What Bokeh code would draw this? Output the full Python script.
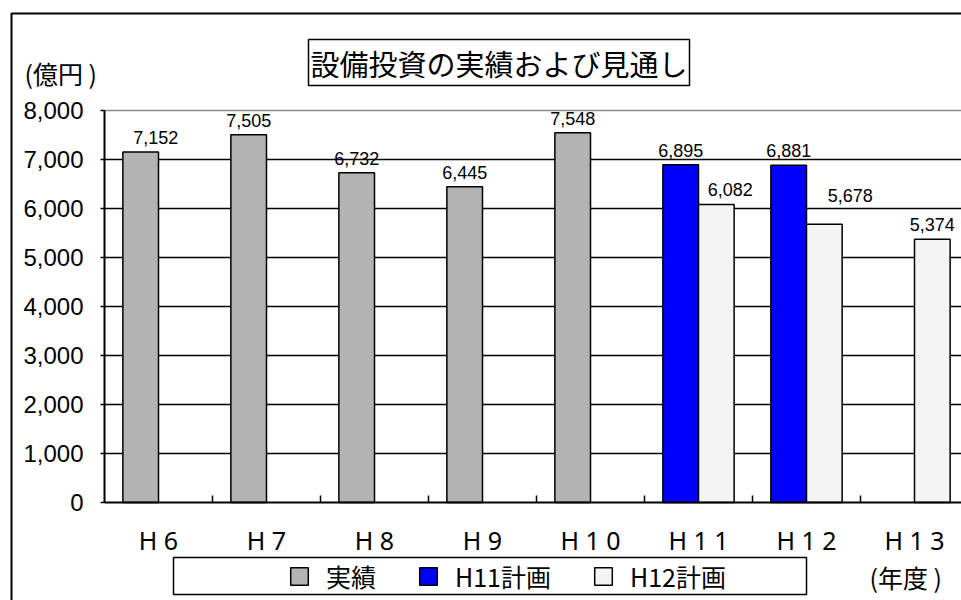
from bokeh.plotting import figure
from bokeh.models import (ColumnDataSource, Range1d, FixedTicker, NumeralTickFormatter,
                          LabelSet, Label, Legend, LegendItem, BoxAnnotation, LinearAxis)
from bokeh.core.properties import value
from bokeh.embed import file_html
from bokeh.resources import INLINE

# ---------------- data ----------------
categories = ["H6", "H7", "H8", "H9", "H10", "H11", "H12", "H13"]
tick_labels = ["H 6", "H 7", "H 8", "H 9", "H 1 0", "H 1 1", "H 1 2", "H 1 3"]
series_names = ["実績", "H11計画", "H12計画"]
actual_cats = ["H6", "H7", "H8", "H9", "H10"]
actual_vals = [7152, 7505, 6732, 6445, 7548]
plan11_cats = ["H11", "H12"]
plan11_vals = [6895, 6881]
plan12_cats = ["H11", "H12", "H13"]
plan12_vals = [6082, 5678, 5374]
y_ticks = [0, 1000, 2000, 3000, 4000, 5000, 6000, 7000, 8000]

# ---------------- styles / layout ----------------
colors = ["#B3B3B3", "#0000FF", "#F4F4F4"]
slot = [-0.165, -0.165, 0.165]      # left slot / right slot within a category
bar_w = 0.33
nudge = {(0, "H6"): (15, 0), (2, "H11"): (14, 0), (2, "H12"): (26, 14)}

W, H = 961, 600
AX_X, AX_Y = 104, 502          # pixel position of the axes origin
CAT_PX = 108                   # pixels per category
Y_PX = 392 / 8000              # pixels per unit of value


def X(px):
    return (px - AX_X) / CAT_PX


def Y(py):
    return (AX_Y - py) / Y_PX


p = figure(width=W, height=H, output_backend="svg", toolbar_location=None,
           x_range=Range1d(X(0), X(W)), y_range=Range1d(Y(H), Y(0)),
           x_axis_type=None, y_axis_type=None,
           min_border=0, min_border_left=0, min_border_right=0,
           min_border_top=0, min_border_bottom=0)
p.outline_line_color = None
p.background_fill_color = "white"
p.border_fill_color = "white"
p.xgrid.visible = False
p.ygrid.visible = False

x_end = X(W + 20)

# grid lines (from the tick list)
grid_y = y_ticks[1:-1]
p.segment(x0=[0] * len(grid_y), x1=[x_end] * len(grid_y), y0=grid_y, y1=grid_y,
          line_color="black", line_width=1.5)
p.segment(x0=[0], x1=[x_end], y0=y_ticks[-1:], y1=y_ticks[-1:],
          line_color="#8C8C8C", line_width=1.5)

# axes at fixed locations
centers = [i + 0.5 for i in range(len(categories))]
bounds = [float(i) for i in range(1, len(categories))]
xa = LinearAxis(fixed_location=0, bounds=(0, x_end))
xa.ticker = FixedTicker(ticks=centers, minor_ticks=bounds)
xa.major_label_overrides = {c: t for c, t in zip(centers, tick_labels)}
xa.major_tick_in = 0
xa.major_tick_out = 0
xa.minor_tick_in = 7
xa.minor_tick_out = 0
xa.minor_tick_line_color = "black"
xa.minor_tick_line_width = 1.5
xa.axis_line_color = "black"
xa.axis_line_width = 2
xa.major_label_text_font = "Noto Sans"
xa.major_label_text_font_size = "25px"
xa.major_label_text_color = "black"
xa.major_label_standoff = 20
p.add_layout(xa, "below")

ya = LinearAxis(fixed_location=0, bounds=(0, 8000))
ya.ticker = FixedTicker(ticks=y_ticks)
ya.formatter = NumeralTickFormatter(format="0,0")
ya.major_tick_in = 0
ya.major_tick_out = 4
ya.major_tick_line_color = "black"
ya.major_tick_line_width = 1.5
ya.minor_tick_line_color = None
ya.axis_line_color = "black"
ya.axis_line_width = 2
ya.major_label_text_font = "Liberation Sans"
ya.major_label_text_font_size = "24px"
ya.major_label_text_color = "black"
ya.major_label_standoff = 17
p.add_layout(ya, "left")

# bars + value labels
series = [(actual_cats, actual_vals), (plan11_cats, plan11_vals), (plan12_cats, plan12_vals)]
renderers = []
for si, (cats, vals) in enumerate(series):
    xs = [categories.index(c) + 0.5 + slot[si] for c in cats]
    src = ColumnDataSource(dict(
        x=xs, top=vals,
        lbl=[f"{v:,}" for v in vals],
        dx=[nudge.get((si, c), (0, 0))[0] for c in cats],
        dy=[8 + nudge.get((si, c), (0, 0))[1] for c in cats],
    ))
    r = p.vbar(x="x", top="top", width=bar_w, source=src,
               fill_color=colors[si], line_color="black", line_width=1.5)
    renderers.append(r)
    p.add_layout(LabelSet(x="x", y="top", text="lbl", source=src,
                          x_offset="dx", y_offset="dy",
                          text_align="center", text_baseline="alphabetic",
                          text_font=value("Liberation Sans"), text_font_size="18px",
                          text_color="black"))

# legend
legend = Legend(items=[LegendItem(label=n, renderers=[r]) for n, r in zip(series_names, renderers)],
                orientation="horizontal", location=(288, 6),
                border_line_color=None, background_fill_alpha=0,
                padding=6, margin=0, spacing=41, glyph_width=22, glyph_height=22,
                label_standoff=16, label_text_font="Noto Sans CJK JP",
                label_text_font_size="25px", label_height=25, label_text_color="black")
p.add_layout(legend, "center")
p.add_layout(BoxAnnotation(left=X(173), right=X(806), top=Y(557), bottom=Y(594),
                           fill_alpha=0, line_color="black", line_alpha=1, line_width=1.5))

# outer frame of the chart area
p.add_layout(BoxAnnotation(left=X(11), right=X(W + 50), top=Y(13), bottom=Y(H + 50),
                           fill_alpha=0, line_color="black", line_alpha=1, line_width=2))

# title box with shadow
title_text = "設備投資の実績および見通し"
p.add_layout(Label(x=X(310), y=Y(64), text=title_text,
                   text_font="Noto Sans CJK JP", text_font_size="29px", text_baseline="middle",
                   text_alpha=0, background_fill_color="black", background_fill_alpha=1,
                   border_line_color="black", border_line_alpha=1, padding=2))
p.add_layout(Label(x=X(308), y=Y(62), text=title_text,
                   text_font="Noto Sans CJK JP", text_font_size="29px", text_baseline="middle",
                   text_color="black", background_fill_color="white", background_fill_alpha=1,
                   border_line_color="black", border_line_alpha=1, border_line_width=1.5,
                   padding=2))

# unit labels
p.add_layout(Label(x=X(24), y=Y(72), text="(億円 )",
                   text_font="Noto Sans CJK JP", text_font_size="25px", text_baseline="middle",
                   text_color="black"))
p.add_layout(Label(x=X(869), y=Y(576), text="(年度 )",
                   text_font="Noto Sans CJK JP", text_font_size="25px", text_baseline="middle",
                   text_color="black"))

open("out.html", "w").write(file_html(p, INLINE))
